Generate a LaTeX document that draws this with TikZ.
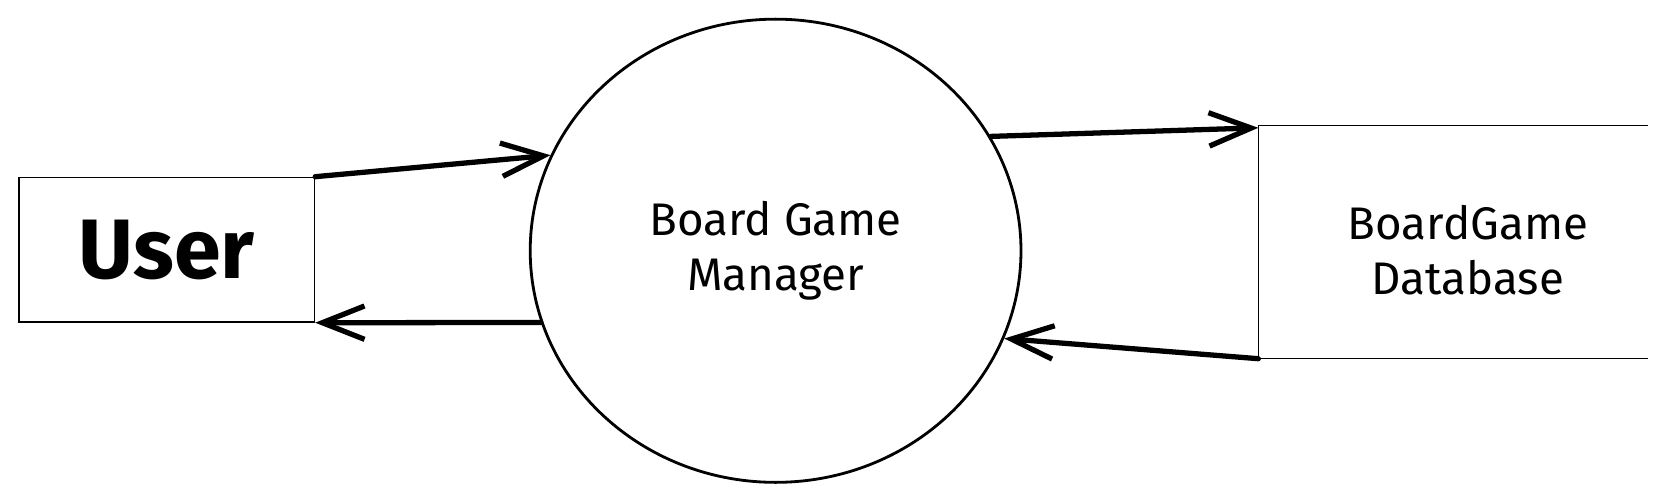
\documentclass[tikz,border=0pt]{standalone}
\usepackage{fontspec}
\setmainfont{Fira Sans}
\usetikzlibrary{positioning, arrows.meta, shapes.geometric}

\begin{document}
\begin{tikzpicture}[x=0.1mm, y=-0.1mm, >={Straight Barb[length=12pt, width=9.5pt]},
    entity/.style={draw, line width=0.4pt, minimum width=29.55mm, minimum height=14.46mm, inner sep=0pt},
    process/.style={ellipse, draw, line width=0.8pt, minimum width=49.08mm, minimum height=46.32mm, inner sep=0pt, align=center, font=\fontsize{13}{15.6}\selectfont},
    store/.style={minimum width=38.8mm, minimum height=23.16mm, inner sep=0pt},
    flow/.style={->, line width=1.5pt, line cap=round}]
    \useasboundingbox (0,0) rectangle (1666,499);
    % External entity
    \node[entity, font=\fontsize{24}{28}\selectfont\bfseries] (user) at (166.75,249.7) {User};
    % Process
    \node[process] (mgr) at (775.6,250.75) {Board Game\\Manager};
    % Data store
    \node[store] (db) at (1453,242.2) {};
    \draw[line width=0.4pt] (db.north east) -- (db.north west) -- (db.south west) -- (db.south east);
    \node[align=center, font=\fontsize{13}{15.6}\selectfont] (dbname) at (1468,250) {BoardGame\\Database};
    % Flows
    \draw[flow] (user.north east) -- (mgr.157);
    \draw[flow] (mgr.197) -- (user.south east);
    \draw[flow] (mgr.28) -- ([yshift=-0.6pt]db.north west);
    \draw[flow] (db.south west) -- (mgr.-21);
\end{tikzpicture}
\end{document}
